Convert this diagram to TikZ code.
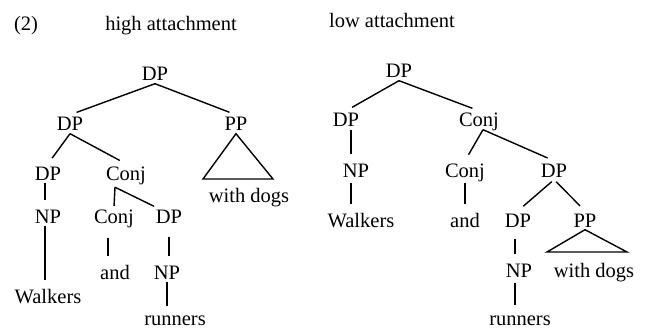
\documentclass[tikz,border=0pt]{standalone}
\usepackage{fontspec}
\setmainfont{Liberation Serif}
\begin{document}
\begin{tikzpicture}[x=1pt,y=-1pt,
  every node/.style={font=\fontsize{20.5}{24}\selectfont, inner xsep=0pt, inner ysep=2.5pt,
    text height=13.5pt, text depth=0pt, anchor=base},
  branch/.style={line width=1.4pt, shorten >=7pt},
  vbranch/.style={line width=1.4pt, shorten >=7pt},
  roof/.style={line width=1.4pt, line join=miter}]
\useasboundingbox (0,0) rectangle (649,329);
% titles
\node (t2) at (26,30.5) {(2)};
\node (th) at (171,30.5) {high attachment};
\node (tl) at (392,27.5) {low attachment};
% ---------- left tree: high attachment ----------
\node (Lroot) at (155,81) {DP};
\node (LdpA) at (70,131) {DP};
\node (LppA) at (236,131) {PP};
\node (LdpB) at (48,180) {DP};
\node (LconjA) at (126,180) {Conj};
\node (Lnp1) at (48,223) {NP};
\node (LconjB) at (114,223) {Conj};
\node (LdpC) at (169,223) {DP};
\node (Lwalk) at (48,303) {Walkers};
\node (Land) at (115,279) {and};
\node (Lnp2) at (167,279) {NP};
\node (Lrun) at (175,325.5) {runners};
\node (Lwd) at (249,203) {with dogs};
\coordinate (Ltl) at (203,179);
\coordinate (Ltr) at (273,179);
\draw[branch] (Lroot.south) -- (LdpA.north);
\draw[branch] (Lroot.south) -- (LppA.north);
\draw[branch] (LdpA.south) -- (LdpB.north);
\draw[branch] (LdpA.south) -- (LconjA.north);
\draw[vbranch] ([xshift=-3pt]LdpB.south) -- ([xshift=-3pt]LdpB.south |- Lnp1.north);
\draw[vbranch] ([xshift=-3pt]Lnp1.south) -- ([xshift=-3pt]Lnp1.south |- Lwalk.north);
\draw[branch, shorten >=1pt] ([xshift=-11pt,yshift=-4.5pt]LconjA.south) -- (LconjB.north);
\draw[branch, shorten >=1pt] ([xshift=-11pt,yshift=-4.5pt]LconjA.south) -- ([xshift=-14pt]LdpC.north);
\draw[vbranch, shorten <=12pt] ([xshift=-6pt]LconjB.south) -- ([xshift=-6pt]LconjB.south |- Land.north);
\draw[vbranch, shorten <=11pt] (LdpC.south) -- (LdpC.south |- Lnp2.north);
\draw[vbranch, shorten >=3pt] (Lnp2.south) -- (Lnp2.south |- Lrun.north);
\draw[roof] (LppA.south) -- (Ltl) -- (Ltr) -- cycle;
% ---------- right tree: low attachment ----------
\node (Rroot) at (399,78) {DP};
\node (RdpA) at (346,127) {DP};
\node (RconjA) at (479,127) {Conj};
\node (Rnp1) at (356,177) {NP};
\node (RconjB) at (465,177) {Conj};
\node (RdpB) at (554,177) {DP};
\node (Rwalk) at (361,227) {Walkers};
\node (Rand) at (465,227) {and};
\node (RdpC) at (518,227) {DP};
\node (RppA) at (585,227) {PP};
\node (Rnp2) at (519,277) {NP};
\node (Rwd) at (594,277) {with dogs};
\node (Rrun) at (520,325) {runners};
\coordinate (Rtl) at (547,252);
\coordinate (Rtr) at (627,252);
\draw[branch] (Rroot.south) -- (RdpA.north);
\draw[branch] (Rroot.south) -- (RconjA.north);
\draw[vbranch] ([xshift=5pt]RdpA.south) -- ([xshift=5pt]RdpA.south |- Rnp1.north);
\draw[vbranch, shorten <=3pt] ([xshift=-5pt]Rnp1.south) -- ([xshift=-5pt]Rnp1.south |- Rwalk.north);
\draw[branch] ([xshift=4pt]RconjA.south) -- (RconjB.north);
\draw[branch] ([xshift=4pt]RconjA.south) -- (RdpB.north);
\draw[vbranch, shorten <=3pt] (RconjB.south) -- (RconjB.south |- Rand.north);
\draw[branch, shorten <=3pt] (RdpB.south) -- (RdpC.north);
\draw[branch, shorten <=3pt] (RdpB.south) -- (RppA.north);
\draw[vbranch, shorten <=9pt] ([xshift=-3pt]RdpC.south) -- ([xshift=-3pt]RdpC.south |- Rnp2.north);
\draw[vbranch, shorten <=3pt, shorten >=4pt] ([xshift=-4pt]Rnp2.south) -- ([xshift=-4pt]Rnp2.south |- Rrun.north);
\draw[roof] (RppA.south) -- (Rtl) -- (Rtr) -- cycle;
\end{tikzpicture}
\end{document}
